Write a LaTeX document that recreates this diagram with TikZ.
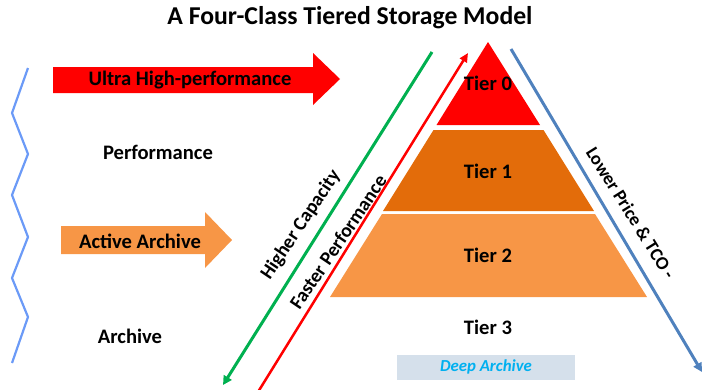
\documentclass[tikz,border=0pt]{standalone}
\usepackage{fontspec}
\setmainfont{Carlito}
\usetikzlibrary{arrows.meta}
\definecolor{tierzero}{HTML}{FF0000}
\definecolor{tierone}{HTML}{E36C0A}
\definecolor{tiertwo}{HTML}{F79646}
\definecolor{greenline}{HTML}{00B050}
\definecolor{blueline}{HTML}{4F81BD}
\definecolor{zigblue}{HTML}{6B9AF7}
\definecolor{deepfill}{HTML}{D5E0EB}
\definecolor{deeptext}{HTML}{00B0F0}
\tikzset{
  lbl/.style={font=\fontsize{20.6}{24}\selectfont\bfseries, inner sep=0pt},
  rlbl/.style={font=\fontsize{19.5}{22}\selectfont\bfseries, inner sep=0pt},
  ttl/.style={font=\fontsize{25.7}{30}\selectfont\bfseries, inner sep=0pt},
  diag/.style={line width=3pt},
}
\begin{document}
\begin{tikzpicture}[x=1pt,y=-1pt]
\useasboundingbox (0,0) rectangle (703,389);
% title
\node[ttl] (title) at (350,18) {A Four-Class Tiered Storage Model};
% zigzag
\draw[zigblue, line width=2.2pt, line join=miter] (28,68) -- (12,113) -- (28,154) -- (12,195) -- (28,237) -- (12,278) -- (28,317) -- (12,363);
% block arrows
\fill[tierzero] (53,67) -- (313,67) -- (313,53) -- (340,79) -- (313,105) -- (313,93) -- (53,93) -- cycle;
\node[lbl] (ultra) at (190,80) {Ultra High-performance};
\fill[tiertwo] (61,226) -- (205,226) -- (205,212) -- (232,240) -- (205,268) -- (205,254) -- (61,254) -- cycle;
\node[lbl] (active) at (140,241) {Active Archive};
\node[lbl] (perf) at (158,152) {Performance};
\node[lbl] (arch) at (130,336) {Archive};
% pyramid
\fill[tierzero] (488,42) -- (540,125) -- (436.5,125) -- cycle;
\fill[tierone] (433.5,130) -- (543.5,130) -- (594,211) -- (383,211) -- cycle;
\fill[tiertwo] (382,214) -- (595,214) -- (647,297) -- (330,297) -- cycle;
\node[lbl] (t0) at (488,83) {Tier 0};
\node[lbl] (t1) at (488,171) {Tier 1};
\node[lbl] (t2) at (488,255) {Tier 2};
\node[lbl] (t3) at (488,327) {Tier 3};
% deep archive
\node[fill=deepfill, minimum width=178pt, minimum height=25pt, inner sep=0pt,
  font=\fontsize{16.8}{20}\selectfont\bfseries\itshape, text=deeptext] (deep) at (486,367) {Deep Archive};
% diagonal arrows
\coordinate (gs) at (432,52);
\coordinate (ge) at (223,385);
\coordinate (rs) at (258,392);
\coordinate (re) at (468,53);
\coordinate (bs) at (511,49);
\coordinate (be) at (702,372);
\draw[greenline, diag, -{Triangle[length=9pt,width=9pt]}] (gs) -- (ge);
\draw[tierzero, line width=2.5pt, -{Triangle[length=9pt,width=8pt]}] (rs) -- (re);
\draw[blueline, diag, -{Triangle[length=9pt,width=9pt]}] (bs) -- (be);
\node[rlbl, rotate=56] (hc) at (301,225) {Higher Capacity};
\node[rlbl, rotate=56] (fp) at (338,242) {Faster Performance};
\node[rlbl, rotate=-58, font=\fontsize{18.5}{22}\selectfont\bfseries] (lp) at (631,213) {Lower Price \& TCO -};
\end{tikzpicture}
\end{document}
